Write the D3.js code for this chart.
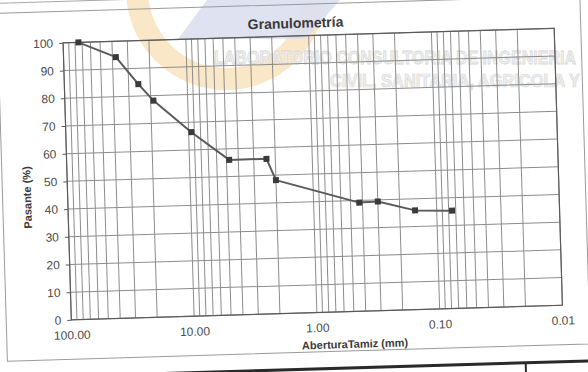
<!DOCTYPE html>
<html>
<head>
<meta charset="utf-8">
<script src="https://cdn.jsdelivr.net/npm/d3@7"></script>
<style>
  html, body { margin: 0; padding: 0; background: #ffffff; }
  svg { display: block; }
  text { font-family: "Liberation Sans", Arial, sans-serif; }
</style>
</head>
<body>
<svg id="chart" width="588" height="372"></svg>
<script>
// Sieve openings (mm) and percent passing
const sieveSizes = [75, 37.5, 25, 19, 9.5, 4.75, 2.36, 2.0, 0.425, 0.30, 0.15, 0.075];
const passingPct = [100, 94.3, 84.3, 78.2, 66.4, 56.0, 56.0, 48.2, 39.2, 39.4, 35.8, 35.3];
const xTickValues = [100, 10, 1, 0.1, 0.01];
const xTickLabels = ["100.00", "10.00", "1.00", "0.10", "0.01"];
const yTickValues = [0, 10, 20, 30, 40, 50, 60, 70, 80, 90, 100];
const titleText = "Granulometría";
const xTitle = "AberturaTamiz (mm)";
const yTitle = "Pasante (%)";
const stampLine1 = "LABORATORIO CONSULTORIA DE INGENIERIA";
const stampLine2 = "CIVIL, SANITARIA, AGRICOLA Y";

const svg = d3.select("#chart");

// Faint letterhead stamp behind the sheet
const stamp = svg.append("g");
stamp.append("path")
  .attr("d", d3.arc().innerRadius(78).outerRadius(100).startAngle(Math.PI * 0.55).endAngle(Math.PI * 1.62)())
  .attr("transform", "translate(226,-10)")
  .attr("fill", "#f7dfb4").attr("opacity", 0.75);
stamp.append("polygon")
  .attr("points", "207,0 340,0 306,39 178,39")
  .attr("fill", "#dcdfee").attr("opacity", 0.9);
stamp.append("text")
  .attr("transform", "translate(214,64) scale(1,1.25)")
  .attr("textLength", 362).attr("lengthAdjust", "spacingAndGlyphs")
  .attr("font-family", "DejaVu Sans Condensed, DejaVu Sans, sans-serif")
  .attr("font-weight", "bold").attr("font-size", 15)
  .attr("fill", "#f0f0f0").attr("stroke", "#d8d8d8").attr("stroke-width", 0.6)
  .text(stampLine1);
stamp.append("text")
  .attr("transform", "translate(330,87) scale(1,1.2)")
  .attr("textLength", 250).attr("lengthAdjust", "spacingAndGlyphs")
  .attr("font-family", "DejaVu Sans Condensed, DejaVu Sans, sans-serif")
  .attr("font-weight", "bold").attr("font-size", 15)
  .attr("fill", "#f0f0f0").attr("stroke", "#d8d8d8").attr("stroke-width", 0.6)
  .text(stampLine2);

// Sheet content, slightly turned as on the printed page
const sheet = svg.append("g").attr("transform", "rotate(-1.7,312.75,174)");

// frame lines of the report form
sheet.append("rect")
  .attr("x", 2).attr("y", 4).attr("width", 583).attr("height", 348)
  .attr("fill", "none").attr("stroke", "#9a9a9a").attr("stroke-width", 1);
sheet.append("line")
  .attr("x1", -20).attr("x2", 320).attr("y1", -6).attr("y2", -6)
  .attr("stroke", "#a8a8a8").attr("stroke-width", 1);
sheet.append("line")
  .attr("x1", -20).attr("x2", 620).attr("y1", 369).attr("y2", 369)
  .attr("stroke", "#2a2a2a").attr("stroke-width", 3);
sheet.append("line")
  .attr("x1", 520).attr("x2", 520).attr("y1", 369).attr("y2", 390)
  .attr("stroke", "#2a2a2a").attr("stroke-width", 2);

const margin = { left: 67.1, top: 35.5 };
const W = 491.3, H = 277.1;

const plot = sheet.append("g").attr("transform", `translate(${margin.left},${margin.top})`);

const x = d3.scaleLog().domain([100, 0.01]).range([0, W]);
const y = d3.scaleLinear().domain([0, 100]).range([H, 0]);

// vertical log grid: every unit step inside each decade
const gridX = [];
[0.01, 0.1, 1, 10].forEach(dec => {
  for (let k = 1; k <= 9; k++) gridX.push(+(k * dec).toPrecision(3));
});
gridX.push(100);

plot.append("g").selectAll("line").data(gridX).join("line")
  .attr("x1", d => x(d)).attr("x2", d => x(d))
  .attr("y1", 0).attr("y2", H)
  .attr("stroke", "#8c8c8c").attr("stroke-width", 1);

plot.append("g").selectAll("line").data(yTickValues).join("line")
  .attr("x1", 0).attr("x2", W)
  .attr("y1", d => y(d)).attr("y2", d => y(d))
  .attr("stroke", "#8c8c8c").attr("stroke-width", 1);

plot.append("rect")
  .attr("width", W).attr("height", H)
  .attr("fill", "none").attr("stroke", "#5a5a5a").attr("stroke-width", 1.2);

// axes
const xAxis = plot.append("g").attr("transform", `translate(0,${H})`)
  .call(d3.axisBottom(x).tickValues(xTickValues)
    .tickFormat((d, i) => xTickLabels[i]).tickSize(0).tickPadding(11));
xAxis.select(".domain").remove();
xAxis.selectAll("text").attr("font-size", 12).attr("fill", "#4a4a4a")
  .attr("font-family", "Liberation Sans, Arial, sans-serif");

const yAxis = plot.append("g")
  .call(d3.axisLeft(y).tickValues(yTickValues).tickFormat(d3.format("d"))
    .tickSize(4).tickPadding(6));
yAxis.select(".domain").remove();
yAxis.selectAll("line").attr("stroke", "#5a5a5a");
yAxis.selectAll("text").attr("font-size", 12).attr("fill", "#4a4a4a")
  .attr("font-family", "Liberation Sans, Arial, sans-serif");

// grading curve
const pts = sieveSizes.map((s, i) => [s, passingPct[i]]);
plot.append("path")
  .datum(pts)
  .attr("fill", "none").attr("stroke", "#5a5a5a").attr("stroke-width", 2)
  .attr("stroke-linejoin", "round")
  .attr("d", d3.line().x(d => x(d[0])).y(d => y(d[1])));

plot.append("g").selectAll("rect").data(pts).join("rect")
  .attr("x", d => x(d[0]) - 3).attr("y", d => y(d[1]) - 3)
  .attr("width", 6).attr("height", 6)
  .attr("fill", "#3a3a3a");

// titles
sheet.append("text")
  .attr("x", 300).attr("y", 27.5).attr("text-anchor", "middle")
  .attr("font-size", 14).attr("font-weight", "bold").attr("fill", "#3a3a3a")
  .text(titleText);

sheet.append("text")
  .attr("x", 350).attr("y", 349).attr("text-anchor", "middle")
  .attr("font-size", 11).attr("font-weight", "bold").attr("fill", "#3a3a3a")
  .text(xTitle);

sheet.append("text")
  .attr("transform", "translate(30.5,189) rotate(-90)")
  .attr("text-anchor", "middle")
  .attr("font-size", 11).attr("font-weight", "bold").attr("fill", "#3a3a3a")
  .text(yTitle);
</script>
</body>
</html>
